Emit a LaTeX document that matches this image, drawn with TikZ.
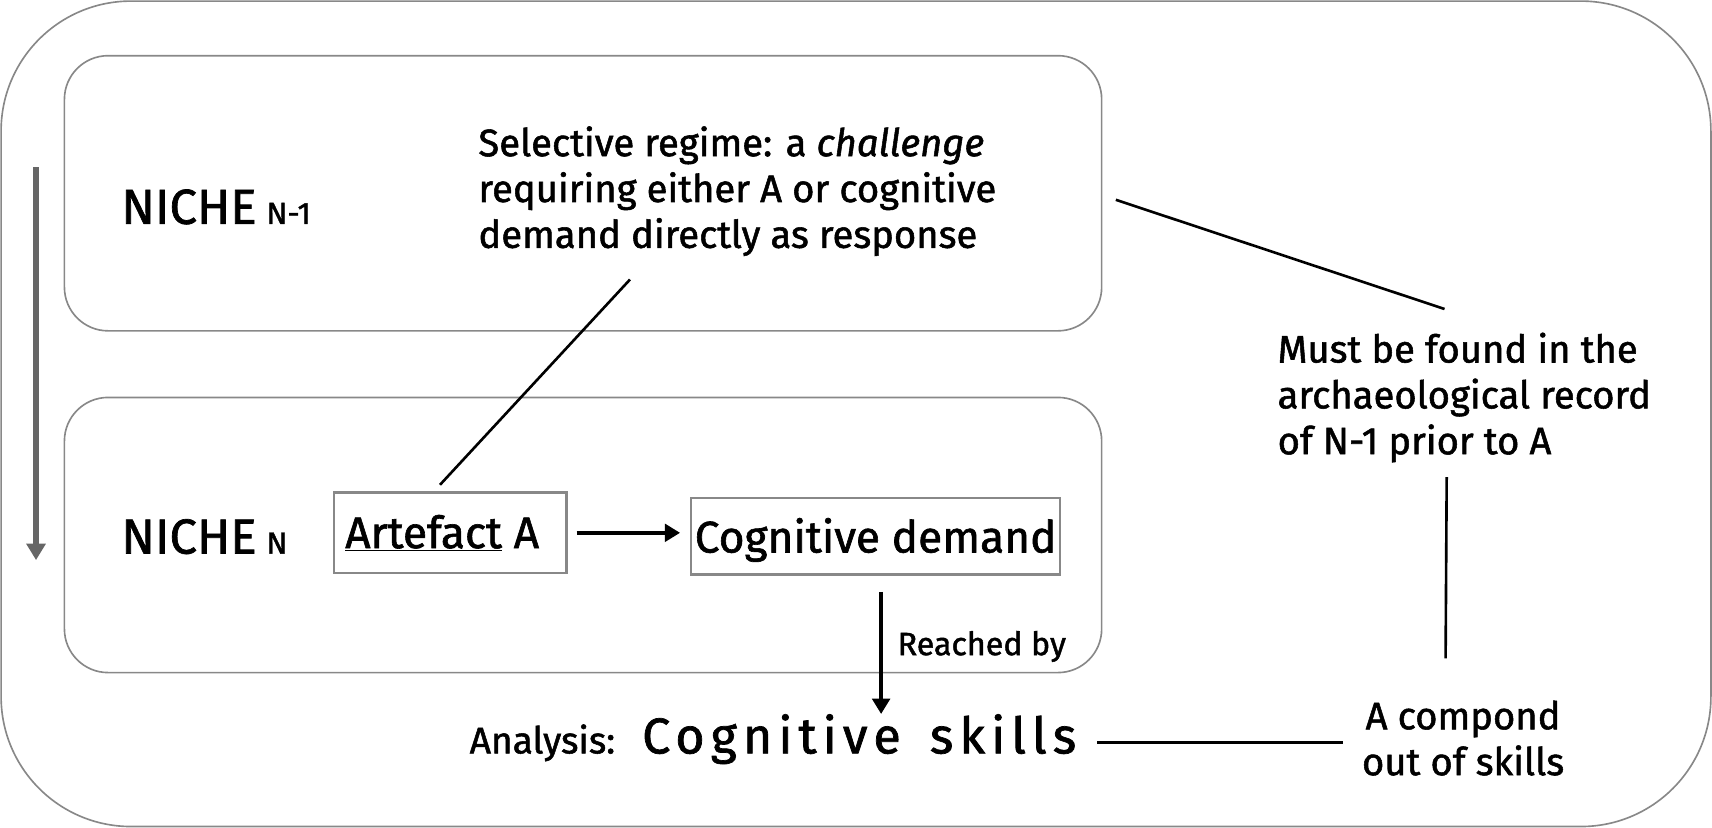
\documentclass[tikz,border=0pt]{standalone}
\usepackage{fontspec}
\setmainfont{Fira Sans}[UprightFeatures={FakeBold=1.4}, ItalicFeatures={FakeBold=1.4}]
\usetikzlibrary{arrows.meta}
\definecolor{frameg}{HTML}{888888}
\definecolor{timeg}{HTML}{666666}
\begin{document}
\begin{tikzpicture}[x=1pt,y=-1pt,
  frame/.style={draw=frameg, line width=1.5pt},
  nichebox/.style={draw=frameg, line width=1.5pt, rounded corners=40pt, minimum width=950pt, minimum height=252pt, inner sep=0pt},
  sqbox/.style={draw=frameg, line width=2.2pt, inner sep=0pt},
  link/.style={line width=2.4pt},
  bigarrow/.style={line width=4pt, -{Triangle[length=14pt,width=16pt]}},
  timearrow/.style={draw=timeg, line width=5pt, -{Triangle[length=15pt,width=17pt]}},
  body/.style={inner sep=0pt, font=\fontsize{35}{42}\selectfont},
  big/.style={inner sep=0pt, font=\fontsize{45}{50}\selectfont},
  boxtxt/.style={inner sep=0pt, font=\fontsize{40.5}{46}\selectfont}
]
\useasboundingbox (0,0) rectangle (1568,758);
\draw[frame, rounded corners=119pt] (1,1) rectangle (1567,757);

\node[nichebox] (n1) at (534,177) {};
\node[nichebox] (n2) at (534,490) {};

\coordinate (ta) at (33,153);
\coordinate (tb) at (33,513);
\draw[timearrow] (ta) -- (tb);

\node[big, anchor=base west] (lab1) at (111,205) {NICHE\hspace{9pt}{\fontsize{28}{28}\selectfont N-1}};
\node[big, anchor=base west] (lab2) at (111,507) {NICHE\hspace{9pt}{\fontsize{28}{28}\selectfont N}};

\node[body, anchor=base west, align=left] (sel) at (438,227)
  {Selective regime: a \textit{challenge}\\requiring either A or cognitive\\demand directly as response};

\node[sqbox, minimum width=213pt, minimum height=74pt] (art) at (412.5,488) {};
\node[boxtxt, anchor=base west] (artt) at (316,502) {\underline{Artefact} A};
\node[sqbox, minimum width=338pt, minimum height=70pt] (cog) at (802,491) {};
\node[boxtxt, anchor=base] (cogt) at (802,506) {Cognitive demand};

\draw[bigarrow, shorten <=8pt, shorten >=9pt] (art.east) -- (cog.west |- art.east);

\node[inner sep=0pt, anchor=base west, font=\fontsize{34}{34}\selectfont] (ana) at (430,690) {Analysis:};
\node[inner sep=0pt, anchor=base west, font=\fontsize{46}{46}\selectfont\addfontfeature{LetterSpace=12}] (skills) at (588,690) {Cognitive\hspace{9pt} skills};

\coordinate (dtop) at ([xshift=5pt,yshift=-15pt]cog.south);
\draw[bigarrow] (dtop) -- (dtop |- skills.north);
\node[inner sep=0pt, anchor=base west, font=\fontsize{29.5}{29.5}\selectfont] (reach) at (822,600) {Reached by};

\node[body, anchor=base west, align=left] (must) at (1170,416)
  {Must be found in the\\archaeological record\\of N-1 prior to A};
\node[body, align=center] (comp) at (1340,676) {A compond\\out of skills};

\coordinate (selfoot) at (577,256);
\coordinate (artfoot) at (403,444);
\coordinate (n1out) at (1022,183);
\coordinate (musttop) at (1323,283);
\coordinate (mustfoot) at (1325,437);
\coordinate (comptop) at (1324,603);
\coordinate (skillsend) at (1005,680);
\coordinate (compleft) at (1230,680);

\draw[link] (selfoot) -- (artfoot);
\draw[link] (n1out) -- (musttop);
\draw[link] (mustfoot) -- (comptop);
\draw[link] (skillsend) -- (compleft);
\end{tikzpicture}
\end{document}
